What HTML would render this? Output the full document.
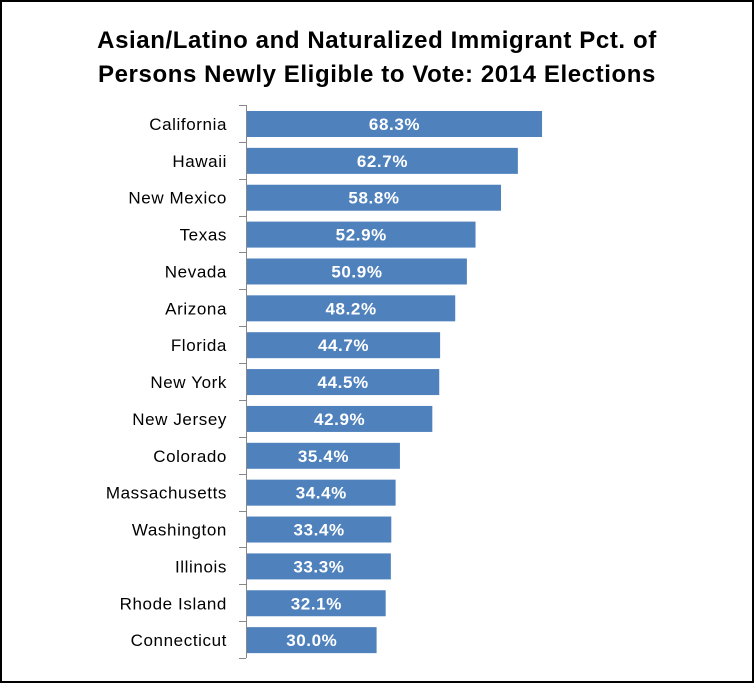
<!DOCTYPE html>
<html><head><style>
body{margin:0;background:#fff}
</style></head><body>
<svg width="754" height="683" xmlns="http://www.w3.org/2000/svg" font-family="'Liberation Sans', 'DejaVu Sans', sans-serif">
<rect x="1" y="1" width="752" height="681" fill="#fff" stroke="#000" stroke-width="2"/>
<text x="377" y="48" text-anchor="middle" font-size="24" font-weight="bold" letter-spacing="0.6">Asian/Latino and Naturalized Immigrant Pct. of</text>
<text x="377" y="82" text-anchor="middle" font-size="24" font-weight="bold" letter-spacing="0.6">Persons Newly Eligible to Vote: 2014 Elections</text>
<g id="bars"></g>
<line x1="246.5" y1="105" x2="246.5" y2="658" stroke="#888" stroke-width="1"/>
<g id="ticks" stroke="#888"></g>
</svg>
<script>
var d=[["California",68.3],["Hawaii",62.7],["New Mexico",58.8],["Texas",52.9],["Nevada",50.9],["Arizona",48.2],["Florida",44.7],["New York",44.5],["New Jersey",42.9],["Colorado",35.4],["Massachusetts",34.4],["Washington",33.4],["Illinois",33.3],["Rhode Island",32.1],["Connecticut",30.0]];
var ns="http://www.w3.org/2000/svg",b=document.getElementById("bars"),t=document.getElementById("ticks");
function el(n,a,p,txt){var e=document.createElementNS(ns,n);for(var k in a)e.setAttribute(k,a[k]);if(txt)e.textContent=txt;p.appendChild(e);return e;}
var pitch=(658-105)/15;
for(var i=0;i<=15;i++){var y=Math.round(105+i*pitch)+0.5;el("line",{x1:239,x2:246,y1:y,y2:y},t);}
d.forEach(function(r,i){var top=105+i*pitch+6,w=r[1]*4.32,cy=top+13;
el("rect",{x:247,y:top,width:w,height:26,fill:"#4F81BD"},b);
el("text",{x:247+w/2,y:cy+6,"text-anchor":"middle","font-size":"17","font-weight":"bold","letter-spacing":"0.6",fill:"#fff"},b,r[1].toFixed(1)+"%");
el("text",{x:227,y:cy+6,"text-anchor":"end","font-size":"17","letter-spacing":"0.6",fill:"#000"},b,r[0]);});
</script>
</body></html>
